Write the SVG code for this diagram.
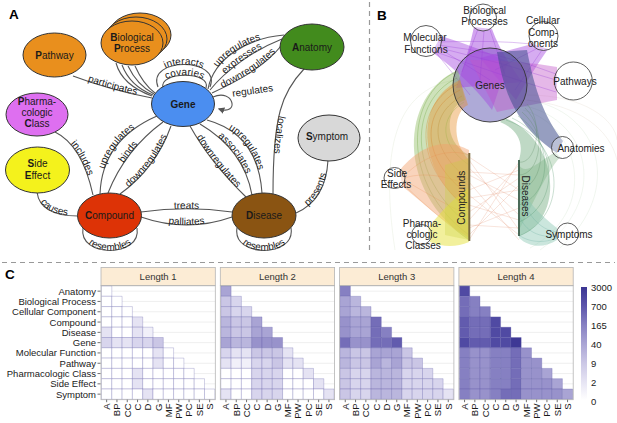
<svg xmlns="http://www.w3.org/2000/svg" width="617" height="423" viewBox="0 0 617 423">
<style>
text{font-family:"Liberation Sans",Arial,sans-serif;fill:#1a1a1a}
.pl{font-size:13.5px;font-weight:bold;fill:#000}
.nd{stroke:#333;stroke-width:1}
.nt{font-size:10px;text-anchor:middle}
.el{font-size:10px}
.ed{fill:none;stroke:#555;stroke-width:1.1}
.bl{font-size:10px;text-anchor:middle;fill:#222}
.bc{fill:#fff;fill-opacity:.35;stroke:#333;stroke-width:.8}
.ax{font-size:9.5px;fill:#333}
.dv{stroke:#999;stroke-width:1.2;stroke-dasharray:5 4;fill:none}
.h0{fill:#fff}.h1{fill:#f1f0f9}.h2{fill:#e5e3f3}.h3{fill:#d8d5ed}.h4{fill:#cac6e5}.h5{fill:#bab6dd}.h6{fill:#a9a4d4}.h7{fill:#9892cb}.h8{fill:#8680c2}.h9{fill:#746db8}.h10{fill:#625bae}.h11{fill:#504aa3}.h12{fill:#3e3895}
.hm{stroke:#5b55a5;stroke-opacity:.45;stroke-width:.6}
.grid{stroke:#ebebeb;stroke-width:.8}
.pb{fill:none;stroke:#b5b5b5;stroke-width:.8}
.hd{fill:#fcecd5;stroke:#b5b5b5;stroke-width:.8}
.ht{font-size:9.5px;text-anchor:middle;fill:#333}
</style>
<defs>
<marker id="arr" viewBox="0 0 10 10" refX="8" refY="5" markerWidth="6" markerHeight="6" orient="auto"><path d="M0,0 L10,5 L0,10 Z" fill="#555"/></marker>
<rect id="k" width="1" height="1" vector-effect="non-scaling-stroke"/>
<linearGradient id="cb" x1="0" y1="0" x2="0" y2="1">
<stop offset="0" stop-color="#3b3593"/><stop offset=".167" stop-color="#5c55ab"/><stop offset=".333" stop-color="#8680c2"/><stop offset=".5" stop-color="#a9a4d4"/><stop offset=".667" stop-color="#cac6e5"/><stop offset=".833" stop-color="#e5e3f3"/><stop offset="1" stop-color="#ffffff"/>
</linearGradient>
</defs>
<rect width="617" height="423" fill="#fff"/>

<line class="dv" x1="369.5" y1="2" x2="369.5" y2="254"/>
<line class="dv" x1="2" y1="262.5" x2="615" y2="262.5"/>

<text class="pl" x="9" y="18.5">A</text>
<text class="pl" x="377" y="20">B</text>
<text class="pl" x="5" y="279">C</text>

<!-- ================= PANEL A ================= -->
<g id="connectors">
<g class="ed">
<path id="e_pw" d="M73,76 Q110,90 152,98"/>
<path d="M116,63 Q122,85 152,96"/>
<path d="M122,65 Q130,86 153,95"/>
<path d="M128,66 Q137,85 154,94"/>
<path d="M135,66 Q143,84 155,93"/>
<path id="e_int" d="M158,87 C146,57 222,57 210,87"/>
<path id="e_cov" d="M163,88 C158,71 212,71 206,88"/>
<path d="M213,97 C234,88 240,116 219,109" marker-end="url(#arr)"/>
<path id="e_au" d="M208,89 C214,58 248,38 284,35"/>
<path id="e_ae" d="M210,90 C226,70 254,50 282,39"/>
<path id="e_ad" d="M212,93 C240,80 265,66 281,46"/>
<path id="e_cu" d="M100,194 Q102,140 157,116"/>
<path id="e_cb" d="M108,193 Q125,150 163,122"/>
<path id="e_cd" d="M120,194 Q156,168 171,126"/>
<path id="e_inc" d="M55,132 Q82,145 93,195"/>
<path id="e_cau" d="M37,192 Q40,216 78,216"/>
<path id="e_tr" d="M141,212 Q187,205.5 232,212"/>
<path id="e_pa" d="M141,217 Q187,233 232,217"/>
<path id="e_gd" d="M190,126 Q210,162 246,197"/>
<path id="e_ga" d="M200,124 Q244,150 252,195"/>
<path id="e_gu" d="M207,120 Q258,134 262,193"/>
<path id="e_loc" d="M304,69 C282,92 273,115 273,194"/>
<path id="e_pr" d="M296,213 Q326,200 328,160"/>
<path id="e_cr" d="M83,228 C78,258 142,258 137,228"/>
<path id="e_dr" d="M237,228 C232,258 296,258 291,228"/>
</g>
<g class="el">
<text><textPath href="#e_pw" startOffset="50%" text-anchor="middle">participates</textPath></text>
<text><textPath href="#e_int" startOffset="50%" text-anchor="middle">interacts</textPath></text>
<text><textPath href="#e_cov" startOffset="50%" text-anchor="middle">covaries</textPath></text>
<text transform="translate(253,94) rotate(-8)" text-anchor="middle">regulates</text>
<text><textPath href="#e_au" startOffset="50%" text-anchor="middle">upregulates</textPath></text>
<text><textPath href="#e_ae" startOffset="50%" text-anchor="middle">expresses</textPath></text>
<text><textPath href="#e_ad" startOffset="52%" text-anchor="middle">downregulates</textPath></text>
<text><textPath href="#e_cu" startOffset="50%" text-anchor="middle">upregulates</textPath></text>
<text><textPath href="#e_cb" startOffset="50%" text-anchor="middle">binds</textPath></text>
<text><textPath href="#e_cd" startOffset="50%" text-anchor="middle">downregulates</textPath></text>
<text><textPath href="#e_inc" startOffset="50%" text-anchor="middle">includes</textPath></text>
<text><textPath href="#e_cau" startOffset="50%" text-anchor="middle">causes</textPath></text>
<text><textPath href="#e_tr" startOffset="50%" text-anchor="middle">treats</textPath></text>
<text><textPath href="#e_pa" startOffset="50%" text-anchor="middle">palliates</textPath></text>
<text><textPath href="#e_gd" startOffset="50%" text-anchor="middle">downregulates</textPath></text>
<text><textPath href="#e_ga" startOffset="50%" text-anchor="middle">associates</textPath></text>
<text><textPath href="#e_gu" startOffset="50%" text-anchor="middle">upregulates</textPath></text>
<text><textPath href="#e_loc" startOffset="55%" text-anchor="middle">localizes</textPath></text>
<text><textPath href="#e_pr" startOffset="50%" text-anchor="middle">presents</textPath></text>
<text><textPath href="#e_cr" startOffset="50%" text-anchor="middle">resembles</textPath></text>
<text><textPath href="#e_dr" startOffset="50%" text-anchor="middle">resembles</textPath></text>
</g>
</g>

<g id="node-pathway"><ellipse class="nd" cx="54.5" cy="55" rx="31.5" ry="22" fill="#e98f1d"/><text class="nt" x="54.5" y="59.3"><tspan font-weight="bold">P</tspan>athway</text></g>
<g id="node-biological-process">
<ellipse class="nd" cx="140" cy="35" rx="31" ry="22" fill="#e98f1d"/>
<ellipse class="nd" cx="136" cy="39" rx="31" ry="22" fill="#e98f1d"/>
<ellipse class="nd" cx="132" cy="43" rx="31" ry="22" fill="#e98f1d"/>
<text class="nt" x="132" y="40.5"><tspan font-weight="bold">B</tspan>iological</text>
<text class="nt" x="132" y="52.2"><tspan font-weight="bold">P</tspan>rocess</text>
</g>
<g id="node-gene"><ellipse class="nd" cx="183" cy="104" rx="31.5" ry="22.5" fill="#4b8ef0"/><text class="nt" x="183" y="108.3" font-size="11" font-weight="bold">Gene</text></g>
<g id="node-anatomy"><ellipse class="nd" cx="312" cy="47" rx="32" ry="23" fill="#428b1d"/><text class="nt" x="312" y="50.5"><tspan font-weight="bold">A</tspan>natomy</text></g>
<g id="node-symptom"><ellipse class="nd" cx="329" cy="138" rx="31" ry="23" fill="#d8d8d8"/><text class="nt" x="327" y="139.7" font-size="6.5"><tspan font-weight="bold">S</tspan>ymptom</text></g>
<g id="node-pharmacologic-class"><ellipse class="nd" cx="37" cy="114.5" rx="31" ry="21.5" fill="#de6ff0"/>
<text class="nt" x="37" y="105.3"><tspan font-weight="bold">P</tspan>harma-</text>
<text class="nt" x="37" y="115.7">cologic</text>
<text class="nt" x="37" y="127"><tspan font-weight="bold">C</tspan>lass</text></g>
<g id="node-side-effect"><ellipse class="nd" cx="37.5" cy="170" rx="32" ry="23" fill="#f4f21c"/>
<text class="nt" x="37.5" y="167.2"><tspan font-weight="bold">S</tspan>ide</text>
<text class="nt" x="37.5" y="179.2"><tspan font-weight="bold">E</tspan>ffect</text></g>
<g id="node-compound"><ellipse class="nd" cx="109.5" cy="215.5" rx="32" ry="22.5" fill="#dd3306"/><text class="nt" x="109.5" y="218.5" font-size="8"><tspan font-weight="bold">C</tspan>ompound</text></g>
<g id="node-disease"><ellipse class="nd" cx="264" cy="215.5" rx="32" ry="22.5" fill="#8a5412"/><text class="nt" x="264" y="218.6" font-size="11"><tspan font-weight="bold">D</tspan>isease</text></g>

<!-- ================= PANEL B ================= -->
<g id="hive">
<g fill="none" stroke-width=".5" stroke-opacity=".35">
<path stroke="#a8c8a0" d="M527,100 C600,110 625,190 560,248"/>
<path stroke="#a8c8a0" d="M525,106 C590,120 610,200 540,250"/>
<path stroke="#a8c8a0" d="M523,110 C580,125 600,210 530,248"/>
<path stroke="#c8b8a0" d="M527,95 C585,95 615,120 617,140"/>
<path stroke="#c8b8a0" d="M526,100 C580,105 610,130 617,160"/>
<path stroke="#b8c8a0" d="M455,80 C395,90 380,150 395,250"/>
</g>
<circle cx="490" cy="85" r="37" fill="#5e55b0" fill-opacity=".5"/>
<path fill="#a347e0" fill-opacity=".5" d="M474,27 Q468,55 456,88 L522,82 Q500,52 492,29 Z"/>
<path fill="#a347e0" fill-opacity=".45" d="M432,52 L441,36 Q480,48 508,62 L492,110 Q470,80 432,52 Z"/>
<path fill="#a347e0" fill-opacity=".45" d="M532,44 L548,49 Q530,75 516,100 L480,58 Z"/>
<path fill="#c055c8" fill-opacity=".42" d="M557,67 Q515,60 470,60 L497,112 Q530,105 557,100 Z"/>
<g fill="none" stroke="#9b3fd8" stroke-width=".6" stroke-opacity=".55">
<path d="M438,45 Q500,52 556,74"/>
<path d="M440,48 Q500,62 556,80"/>
<path d="M438,42 Q495,40 532,44"/>
<path d="M436,52 Q500,75 556,92"/>
<path d="M478,29 L462,72"/><path d="M484,31 L480,80"/><path d="M490,30 L505,75"/>
<path d="M538,48 L495,70"/><path d="M542,50 L515,90"/>
<path d="M434,50 L470,95"/><path d="M437,47 L490,80"/>
</g>
<path fill="#7fb24a" fill-opacity=".38" d="M458,70 C400,95 395,190 469,240 L469,155 C440,140 448,105 465,100 Z"/>
<path fill="#e8902a" fill-opacity=".42" d="M460,80 C415,100 415,170 469,210 L469,160 C450,140 455,110 468,105 Z"/>
<g fill="none" stroke-width=".6" stroke-opacity=".55">
<path stroke="#6aa43a" d="M456,72 C405,95 400,185 469,235"/>
<path stroke="#6aa43a" d="M457,78 C410,100 405,175 469,225"/>
<path stroke="#d07a20" d="M458,84 C415,105 412,165 469,210"/>
<path stroke="#d07a20" d="M460,90 C420,110 420,160 469,195"/>
<path stroke="#b88a30" d="M462,96 C428,115 430,150 469,180"/>
<path stroke="#9ab040" d="M464,102 C438,118 440,145 469,165"/>
</g>
<path fill="#f2a06a" fill-opacity=".45" d="M400,170 C425,140 450,140 469,150 L469,238 C440,220 420,200 402,186 Z"/>
<g fill="none" stroke="#e88a50" stroke-width=".5" stroke-opacity=".5">
<path d="M404,176 C430,150 455,150 469,155"/>
<path d="M404,178 C430,170 455,180 469,185"/>
<path d="M404,180 C430,195 455,210 469,215"/>
<path d="M403,184 C430,210 455,230 469,240"/>
</g>
<path fill="#e6e23a" fill-opacity=".5" d="M428,228 Q450,200 469,188 L469,242 Q450,250 430,242 Z"/>
<path fill="#c8d040" fill-opacity=".3" d="M445,165 L469,158 L469,240 L445,235 Z"/>
<g fill="none" stroke="#e59b7a" stroke-width=".45" stroke-opacity=".6">
<path d="M469,160 L519,230"/><path d="M469,175 L519,200"/><path d="M469,190 L519,170"/><path d="M469,205 L519,220"/>
<path d="M469,220 L519,165"/><path d="M469,235 L519,185"/><path d="M469,168 L519,215"/><path d="M469,182 L519,240"/>
<path d="M469,198 L519,190"/><path d="M469,212 L519,178"/><path d="M469,228 L519,208"/><path d="M469,157 L519,190"/>
<path d="M469,240 L519,162"/><path d="M469,195 L519,235"/><path d="M469,172 L519,175"/><path d="M469,225 L519,228"/>
</g>
<path fill="#3f4f8c" fill-opacity=".55" d="M497,52 C505,100 520,128 557,153 L563,141 C545,118 535,92 527,50 Z"/>
<path fill="#5f9f6f" fill-opacity=".4" d="M505,118 C560,140 565,220 519,236 L519,160 C525,140 515,128 500,122 Z"/>
<path fill="#6aa870" fill-opacity=".3" d="M555,152 C535,165 525,175 519,165 L519,230 C535,200 545,175 560,157 Z"/>
<path fill="#8cc8b4" fill-opacity=".45" d="M557,228 C540,215 525,200 519,180 L519,238 C530,248 545,248 557,240 Z"/>
<g fill="none" stroke-width=".6" stroke-opacity=".5">
<path stroke="#4f9468" d="M506,120 C565,140 570,215 519,236"/>
<path stroke="#4f9468" d="M512,118 C560,140 560,205 519,222"/>
<path stroke="#4f9468" d="M518,116 C555,140 552,195 519,205"/>
<path stroke="#5a8a60" d="M522,112 C550,135 545,185 519,190"/>
<path stroke="#5a8a60" d="M525,108 C548,130 540,175 519,175"/>
<path stroke="#5a8a60" d="M527,104 C545,125 535,165 519,162"/>
<path stroke="#6ab0a0" d="M557,232 C540,230 525,215 519,185"/>
<path stroke="#6ab0a0" d="M557,236 C540,238 525,232 519,215"/>
<path stroke="#6ab0a0" d="M557,238 C540,245 525,240 519,235"/>
</g>
<line x1="469.3" y1="153" x2="469.3" y2="241" stroke="#7a6a3e" stroke-width="2"/>
<line x1="519" y1="160" x2="519" y2="236" stroke="#4a6a58" stroke-width="2"/>
<circle cx="490" cy="85" r="37" fill="none" stroke="#333" stroke-width=".9"/>
<circle class="bc" cx="483" cy="17.5" r="13.5"/>
<circle class="bc" cx="426" cy="41" r="15.5"/>
<circle class="bc" cx="543.5" cy="36" r="14.5"/>
<circle class="bc" cx="573.3" cy="81" r="19"/>
<circle class="bc" cx="562.5" cy="147.5" r="11"/>
<circle class="bc" cx="394.5" cy="178" r="10.5"/>
<circle class="bc" cx="421.7" cy="234.5" r="10"/>
<circle class="bc" cx="567.5" cy="234" r="11"/>
<text class="bl" x="484.7" y="14">Biological</text>
<text class="bl" x="484.5" y="25">Processes</text>
<text class="bl" x="425" y="40.5">Molecular</text>
<text class="bl" x="426" y="52.5">Functions</text>
<text class="bl" x="543" y="23.5">Cellular</text>
<text class="bl" x="543" y="35.5">Comp-</text>
<text class="bl" x="543" y="46.5">onents</text>
<text class="bl" x="490" y="89">Genes</text>
<text class="bl" x="575" y="85">Pathways</text>
<text class="bl" x="581" y="152.3">Anatomies</text>
<text class="bl" x="397" y="177">Side</text>
<text class="bl" x="396" y="188.3">Effects</text>
<text class="bl" x="422" y="227">Pharma-</text>
<text class="bl" x="422" y="237.5">cologic</text>
<text class="bl" x="423" y="249">Classes</text>
<text class="bl" x="569" y="237.5">Symptoms</text>
<text class="bl" font-size="10.5" transform="translate(464.5,197.7) rotate(-90)">Compounds</text>
<text class="bl" transform="translate(521.7,196) rotate(90)">Diseases</text>
</g>

<!-- ================= PANEL C ================= -->
<g id="heatmaps">
<g id="frames">
<rect class="hd" x="101" y="267.5" width="114.3" height="18.2"/>
<rect class="hd" x="220.3" y="267.5" width="114.3" height="18.2"/>
<rect class="hd" x="339.6" y="267.5" width="114.3" height="18.2"/>
<rect class="hd" x="458.9" y="267.5" width="114.3" height="18.2"/>
<text class="ht" x="158.1" y="280">Length 1</text>
<text class="ht" x="277.4" y="280">Length 2</text>
<text class="ht" x="396.7" y="280">Length 3</text>
<text class="ht" x="516" y="280">Length 4</text>
</g>
<g id="gridrows" class="grid">
<path d="M101,291.15h114.3M101,301.45h114.3M101,311.75h114.3M101,322.05h114.3M101,332.35h114.3M101,342.65h114.3M101,352.95h114.3M101,363.25h114.3M101,373.55h114.3M101,383.85h114.3M101,394.15h114.3"/>
</g>
<use href="#gridrows" x="119.3"/><use href="#gridrows" x="238.6"/><use href="#gridrows" x="357.9"/>

<g class="hm" transform="translate(101.5,286) scale(10.3)">
<use href="#k" x="0" y="0" class="h0"/>
<use href="#k" x="0" y="1" class="h0"/><use href="#k" x="1" y="1" class="h0"/>
<use href="#k" x="0" y="2" class="h0"/><use href="#k" x="1" y="2" class="h0"/><use href="#k" x="2" y="2" class="h0"/>
<use href="#k" x="0" y="3" class="h0"/><use href="#k" x="1" y="3" class="h0"/><use href="#k" x="2" y="3" class="h0"/><use href="#k" x="3" y="3" class="h2"/>
<use href="#k" x="0" y="4" class="h2"/><use href="#k" x="1" y="4" class="h0"/><use href="#k" x="2" y="4" class="h0"/><use href="#k" x="3" y="4" class="h2"/><use href="#k" x="4" y="4" class="h1"/>
<use href="#k" x="0" y="5" class="h3"/><use href="#k" x="1" y="5" class="h2"/><use href="#k" x="2" y="5" class="h2"/><use href="#k" x="3" y="5" class="h3"/><use href="#k" x="4" y="5" class="h3"/><use href="#k" x="5" y="5" class="h4"/>
<use href="#k" x="0" y="6" class="h0"/><use href="#k" x="1" y="6" class="h0"/><use href="#k" x="2" y="6" class="h0"/><use href="#k" x="3" y="6" class="h0"/><use href="#k" x="4" y="6" class="h0"/><use href="#k" x="5" y="6" class="h2"/><use href="#k" x="6" y="6" class="h0"/>
<use href="#k" x="0" y="7" class="h0"/><use href="#k" x="1" y="7" class="h0"/><use href="#k" x="2" y="7" class="h0"/><use href="#k" x="3" y="7" class="h0"/><use href="#k" x="4" y="7" class="h0"/><use href="#k" x="5" y="7" class="h2"/><use href="#k" x="6" y="7" class="h0"/><use href="#k" x="7" y="7" class="h0"/>
<use href="#k" x="0" y="8" class="h0"/><use href="#k" x="1" y="8" class="h0"/><use href="#k" x="2" y="8" class="h0"/><use href="#k" x="3" y="8" class="h2"/><use href="#k" x="4" y="8" class="h0"/><use href="#k" x="5" y="8" class="h0"/><use href="#k" x="6" y="8" class="h0"/><use href="#k" x="7" y="8" class="h0"/><use href="#k" x="8" y="8" class="h0"/>
<use href="#k" x="0" y="9" class="h0"/><use href="#k" x="1" y="9" class="h0"/><use href="#k" x="2" y="9" class="h0"/><use href="#k" x="3" y="9" class="h2"/><use href="#k" x="4" y="9" class="h0"/><use href="#k" x="5" y="9" class="h0"/><use href="#k" x="6" y="9" class="h0"/><use href="#k" x="7" y="9" class="h0"/><use href="#k" x="8" y="9" class="h0"/><use href="#k" x="9" y="9" class="h0"/>
<use href="#k" x="0" y="10" class="h0"/><use href="#k" x="1" y="10" class="h0"/><use href="#k" x="2" y="10" class="h0"/><use href="#k" x="3" y="10" class="h0"/><use href="#k" x="4" y="10" class="h2"/><use href="#k" x="5" y="10" class="h0"/><use href="#k" x="6" y="10" class="h0"/><use href="#k" x="7" y="10" class="h0"/><use href="#k" x="8" y="10" class="h0"/><use href="#k" x="9" y="10" class="h0"/><use href="#k" x="10" y="10" class="h0"/>
</g>

<g class="hm" transform="translate(220.8,286) scale(10.3)">
<use href="#k" x="0" y="0" class="h6"/>
<use href="#k" x="0" y="1" class="h4"/><use href="#k" x="1" y="1" class="h3"/>
<use href="#k" x="0" y="2" class="h4"/><use href="#k" x="1" y="2" class="h3"/><use href="#k" x="2" y="2" class="h3"/>
<use href="#k" x="0" y="3" class="h5"/><use href="#k" x="1" y="3" class="h4"/><use href="#k" x="2" y="3" class="h4"/><use href="#k" x="3" y="3" class="h6"/>
<use href="#k" x="0" y="4" class="h5"/><use href="#k" x="1" y="4" class="h4"/><use href="#k" x="2" y="4" class="h4"/><use href="#k" x="3" y="4" class="h6"/><use href="#k" x="4" y="4" class="h6"/>
<use href="#k" x="0" y="5" class="h6"/><use href="#k" x="1" y="5" class="h5"/><use href="#k" x="2" y="5" class="h5"/><use href="#k" x="3" y="5" class="h7"/><use href="#k" x="4" y="5" class="h7"/><use href="#k" x="5" y="5" class="h7"/>
<use href="#k" x="0" y="6" class="h3"/><use href="#k" x="1" y="6" class="h2"/><use href="#k" x="2" y="6" class="h2"/><use href="#k" x="3" y="6" class="h4"/><use href="#k" x="4" y="6" class="h4"/><use href="#k" x="5" y="6" class="h4"/><use href="#k" x="6" y="6" class="h2"/>
<use href="#k" x="0" y="7" class="h2"/><use href="#k" x="1" y="7" class="h1"/><use href="#k" x="2" y="7" class="h1"/><use href="#k" x="3" y="7" class="h3"/><use href="#k" x="4" y="7" class="h3"/><use href="#k" x="5" y="7" class="h4"/><use href="#k" x="6" y="7" class="h2"/><use href="#k" x="7" y="7" class="h2"/>
<use href="#k" x="0" y="8" class="h0"/><use href="#k" x="1" y="8" class="h0"/><use href="#k" x="2" y="8" class="h0"/><use href="#k" x="3" y="8" class="h3"/><use href="#k" x="4" y="8" class="h3"/><use href="#k" x="5" y="8" class="h3"/><use href="#k" x="6" y="8" class="h0"/><use href="#k" x="7" y="8" class="h0"/><use href="#k" x="8" y="8" class="h2"/>
<use href="#k" x="0" y="9" class="h0"/><use href="#k" x="1" y="9" class="h0"/><use href="#k" x="2" y="9" class="h0"/><use href="#k" x="3" y="9" class="h3"/><use href="#k" x="4" y="9" class="h3"/><use href="#k" x="5" y="9" class="h3"/><use href="#k" x="6" y="9" class="h0"/><use href="#k" x="7" y="9" class="h0"/><use href="#k" x="8" y="9" class="h0"/><use href="#k" x="9" y="9" class="h2"/>
<use href="#k" x="0" y="10" class="h2"/><use href="#k" x="1" y="10" class="h0"/><use href="#k" x="2" y="10" class="h0"/><use href="#k" x="3" y="10" class="h3"/><use href="#k" x="4" y="10" class="h3"/><use href="#k" x="5" y="10" class="h3"/><use href="#k" x="6" y="10" class="h0"/><use href="#k" x="7" y="10" class="h0"/><use href="#k" x="8" y="10" class="h0"/><use href="#k" x="9" y="10" class="h0"/><use href="#k" x="10" y="10" class="h2"/>
</g>

<g class="hm" transform="translate(340.1,286) scale(10.3)">
<use href="#k" x="0" y="0" class="h8"/>
<use href="#k" x="0" y="1" class="h6"/><use href="#k" x="1" y="1" class="h5"/>
<use href="#k" x="0" y="2" class="h6"/><use href="#k" x="1" y="2" class="h5"/><use href="#k" x="2" y="2" class="h5"/>
<use href="#k" x="0" y="3" class="h7"/><use href="#k" x="1" y="3" class="h6"/><use href="#k" x="2" y="3" class="h6"/><use href="#k" x="3" y="3" class="h9"/>
<use href="#k" x="0" y="4" class="h7"/><use href="#k" x="1" y="4" class="h6"/><use href="#k" x="2" y="4" class="h6"/><use href="#k" x="3" y="4" class="h9"/><use href="#k" x="4" y="4" class="h8"/>
<use href="#k" x="0" y="5" class="h9"/><use href="#k" x="1" y="5" class="h7"/><use href="#k" x="2" y="5" class="h7"/><use href="#k" x="3" y="5" class="h9"/><use href="#k" x="4" y="5" class="h9"/><use href="#k" x="5" y="5" class="h10"/>
<use href="#k" x="0" y="6" class="h5"/><use href="#k" x="1" y="6" class="h4"/><use href="#k" x="2" y="6" class="h4"/><use href="#k" x="3" y="6" class="h6"/><use href="#k" x="4" y="6" class="h6"/><use href="#k" x="5" y="6" class="h6"/><use href="#k" x="6" y="6" class="h4"/>
<use href="#k" x="0" y="7" class="h5"/><use href="#k" x="1" y="7" class="h4"/><use href="#k" x="2" y="7" class="h4"/><use href="#k" x="3" y="7" class="h6"/><use href="#k" x="4" y="7" class="h5"/><use href="#k" x="5" y="7" class="h6"/><use href="#k" x="6" y="7" class="h4"/><use href="#k" x="7" y="7" class="h4"/>
<use href="#k" x="0" y="8" class="h4"/><use href="#k" x="1" y="8" class="h3"/><use href="#k" x="2" y="8" class="h3"/><use href="#k" x="3" y="8" class="h5"/><use href="#k" x="4" y="8" class="h5"/><use href="#k" x="5" y="8" class="h5"/><use href="#k" x="6" y="8" class="h3"/><use href="#k" x="7" y="8" class="h3"/><use href="#k" x="8" y="8" class="h3"/>
<use href="#k" x="0" y="9" class="h4"/><use href="#k" x="1" y="9" class="h3"/><use href="#k" x="2" y="9" class="h3"/><use href="#k" x="3" y="9" class="h5"/><use href="#k" x="4" y="9" class="h5"/><use href="#k" x="5" y="9" class="h5"/><use href="#k" x="6" y="9" class="h3"/><use href="#k" x="7" y="9" class="h3"/><use href="#k" x="8" y="9" class="h3"/><use href="#k" x="9" y="9" class="h3"/>
<use href="#k" x="0" y="10" class="h4"/><use href="#k" x="1" y="10" class="h3"/><use href="#k" x="2" y="10" class="h3"/><use href="#k" x="3" y="10" class="h5"/><use href="#k" x="4" y="10" class="h5"/><use href="#k" x="5" y="10" class="h5"/><use href="#k" x="6" y="10" class="h3"/><use href="#k" x="7" y="10" class="h3"/><use href="#k" x="8" y="10" class="h3"/><use href="#k" x="9" y="10" class="h3"/><use href="#k" x="10" y="10" class="h2"/>
</g>

<g class="hm" transform="translate(459.4,286) scale(10.3)">
<use href="#k" x="0" y="0" class="h11"/>
<use href="#k" x="0" y="1" class="h9"/><use href="#k" x="1" y="1" class="h8"/>
<use href="#k" x="0" y="2" class="h9"/><use href="#k" x="1" y="2" class="h8"/><use href="#k" x="2" y="2" class="h8"/>
<use href="#k" x="0" y="3" class="h10"/><use href="#k" x="1" y="3" class="h9"/><use href="#k" x="2" y="3" class="h9"/><use href="#k" x="3" y="3" class="h11"/>
<use href="#k" x="0" y="4" class="h10"/><use href="#k" x="1" y="4" class="h9"/><use href="#k" x="2" y="4" class="h9"/><use href="#k" x="3" y="4" class="h11"/><use href="#k" x="4" y="4" class="h11"/>
<use href="#k" x="0" y="5" class="h11"/><use href="#k" x="1" y="5" class="h10"/><use href="#k" x="2" y="5" class="h10"/><use href="#k" x="3" y="5" class="h11"/><use href="#k" x="4" y="5" class="h11"/><use href="#k" x="5" y="5" class="h12"/>
<use href="#k" x="0" y="6" class="h8"/><use href="#k" x="1" y="6" class="h7"/><use href="#k" x="2" y="6" class="h7"/><use href="#k" x="3" y="6" class="h8"/><use href="#k" x="4" y="6" class="h8"/><use href="#k" x="5" y="6" class="h9"/><use href="#k" x="6" y="6" class="h7"/>
<use href="#k" x="0" y="7" class="h8"/><use href="#k" x="1" y="7" class="h7"/><use href="#k" x="2" y="7" class="h7"/><use href="#k" x="3" y="7" class="h8"/><use href="#k" x="4" y="7" class="h8"/><use href="#k" x="5" y="7" class="h9"/><use href="#k" x="6" y="7" class="h7"/><use href="#k" x="7" y="7" class="h7"/>
<use href="#k" x="0" y="8" class="h8"/><use href="#k" x="1" y="8" class="h7"/><use href="#k" x="2" y="8" class="h7"/><use href="#k" x="3" y="8" class="h8"/><use href="#k" x="4" y="8" class="h8"/><use href="#k" x="5" y="8" class="h9"/><use href="#k" x="6" y="8" class="h7"/><use href="#k" x="7" y="8" class="h7"/><use href="#k" x="8" y="8" class="h6"/>
<use href="#k" x="0" y="9" class="h8"/><use href="#k" x="1" y="9" class="h7"/><use href="#k" x="2" y="9" class="h7"/><use href="#k" x="3" y="9" class="h8"/><use href="#k" x="4" y="9" class="h8"/><use href="#k" x="5" y="9" class="h9"/><use href="#k" x="6" y="9" class="h7"/><use href="#k" x="7" y="9" class="h7"/><use href="#k" x="8" y="9" class="h7"/><use href="#k" x="9" y="9" class="h6"/>
<use href="#k" x="0" y="10" class="h8"/><use href="#k" x="1" y="10" class="h7"/><use href="#k" x="2" y="10" class="h7"/><use href="#k" x="3" y="10" class="h8"/><use href="#k" x="4" y="10" class="h9"/><use href="#k" x="5" y="10" class="h9"/><use href="#k" x="6" y="10" class="h7"/><use href="#k" x="7" y="10" class="h7"/><use href="#k" x="8" y="10" class="h7"/><use href="#k" x="9" y="10" class="h7"/><use href="#k" x="10" y="10" class="h6"/>
</g>

<g id="pframes">
<rect class="pb" x="101" y="285.7" width="114.3" height="114"/>
<rect class="pb" x="220.3" y="285.7" width="114.3" height="114"/>
<rect class="pb" x="339.6" y="285.7" width="114.3" height="114"/>
<rect class="pb" x="458.9" y="285.7" width="114.3" height="114"/>
</g>

<path stroke="#333" stroke-width=".7" d="M97.5,291.15h3M97.5,301.45h3M97.5,311.75h3M97.5,322.05h3M97.5,332.35h3M97.5,342.65h3M97.5,352.95h3M97.5,363.25h3M97.5,373.55h3M97.5,383.85h3M97.5,394.15h3"/>
<g class="ax" text-anchor="end">
<text x="96" y="294.6">Anatomy</text>
<text x="96" y="304.9">Biological Process</text>
<text x="96" y="315.2">Cellular Component</text>
<text x="96" y="325.5">Compound</text>
<text x="96" y="335.8">Disease</text>
<text x="96" y="346.1">Gene</text>
<text x="96" y="356.4">Molecular Function</text>
<text x="96" y="366.7">Pathway</text>
<text x="96" y="377">Pharmacologic Class</text>
<text x="96" y="387.3">Side Effect</text>
<text x="96" y="397.6">Symptom</text>
</g>

<g id="xax">
<path stroke="#333" stroke-width=".7" d="M106.65,399.7v2.5M116.95,399.7v2.5M127.25,399.7v2.5M137.55,399.7v2.5M147.85,399.7v2.5M158.15,399.7v2.5M168.45,399.7v2.5M178.75,399.7v2.5M189.05,399.7v2.5M199.35,399.7v2.5M209.65,399.7v2.5"/>
<g class="ax" text-anchor="end">
<text transform="translate(110.05,403.5) rotate(-90)">A</text>
<text transform="translate(120.35,403.5) rotate(-90)">BP</text>
<text transform="translate(130.65,403.5) rotate(-90)">CC</text>
<text transform="translate(140.95,403.5) rotate(-90)">C</text>
<text transform="translate(151.25,403.5) rotate(-90)">D</text>
<text transform="translate(161.55,403.5) rotate(-90)">G</text>
<text transform="translate(171.85,403.5) rotate(-90)">MF</text>
<text transform="translate(182.15,403.5) rotate(-90)">PW</text>
<text transform="translate(192.45,403.5) rotate(-90)">PC</text>
<text transform="translate(202.75,403.5) rotate(-90)">SE</text>
<text transform="translate(213.05,403.5) rotate(-90)">S</text>
</g>
</g>
<use href="#xax" x="119.3"/><use href="#xax" x="238.6"/><use href="#xax" x="357.9"/>

<rect x="581" y="287" width="6" height="113" fill="url(#cb)"/>
<g class="ax">
<text x="591" y="290.8">3000</text>
<text x="591" y="309.7">700</text>
<text x="591" y="328.7">165</text>
<text x="591" y="347.6">40</text>
<text x="591" y="366.6">9</text>
<text x="591" y="385.5">2</text>
<text x="591" y="404.5">0</text>
</g>
</g>
</svg>
